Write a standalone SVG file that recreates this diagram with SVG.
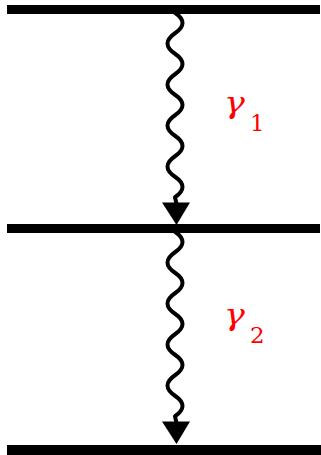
<svg xmlns="http://www.w3.org/2000/svg" width="321" height="455" viewBox="0 0 321 455">
  <style>
    .level { stroke: #000; stroke-width: 9; fill: none; }
    .wave { stroke: #000; stroke-width: 4; fill: none; stroke-linecap: round; stroke-linejoin: round; }
    .head { fill: #000; }
    .gamma { fill: #ff0000; font-family: "DejaVu Serif", "Liberation Serif", serif; font-style: italic; font-size: 29px; }
    .sub { fill: #ff0000; font-family: "DejaVu Serif", "Liberation Serif", serif; font-size: 23px; }
  </style>
  <defs>
    <g id="photon">
      <path class="wave" d="M175,11 L175,12.75 Q190,23 175,33.25 T175,53.75 T175,74.25 T175,94.75 T175,115.25 T175,135.75 T175,156.25 T175,176.75 T175,197.25 L176.5,204"/>
      <polygon class="head" points="162,202.5 190,202.5 176.5,225"/>
    </g>
  </defs>
  <g id="level-top"><line class="level" x1="7" y1="9.5" x2="320" y2="9.5"/></g>
  <g id="level-middle"><line class="level" x1="7" y1="228.5" x2="320" y2="228.5"/></g>
  <g id="level-bottom"><line class="level" x1="7" y1="450" x2="321" y2="450" style="stroke-width:10"/></g>
  <g id="connectors">
    <use href="#photon"/>
    <use href="#photon" transform="translate(0,219)"/>
  </g>
  <g id="label-gamma1">
    <text class="gamma" transform="translate(224,113) scale(1.2,1)">γ</text><text class="sub" x="250" y="131">1</text>
  </g>
  <g id="label-gamma2">
    <text class="gamma" transform="translate(224,325) scale(1.2,1)">γ</text><text class="sub" x="250" y="343">2</text>
  </g>
</svg>
